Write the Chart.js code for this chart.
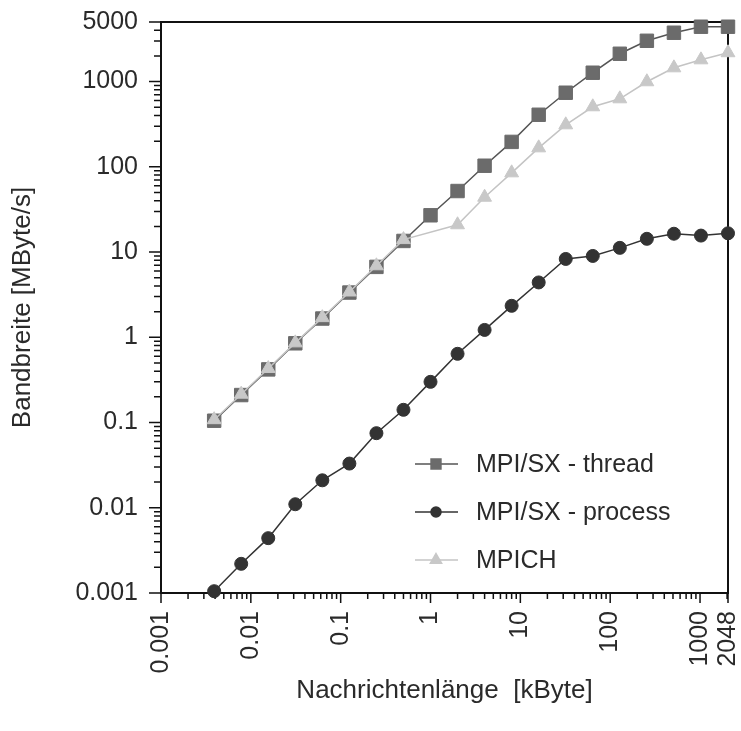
<!DOCTYPE html>
<html>
<head>
<meta charset="utf-8">
<title>Bandbreite MPI/SX</title>
<script src="https://cdn.jsdelivr.net/npm/chart.js@4.4.1/dist/chart.umd.min.js"></script>
<style>
  html, body { margin: 0; padding: 0; background: #ffffff; }
  #wrap { width: 741px; height: 731px; }
</style>
</head>
<body>
<div id="wrap"><canvas id="bwChart" width="741" height="731"></canvas></div>
<script>
// Message sizes in kByte (4 Byte ... 2 MByte)
const msgSizes = [0.00390625, 0.0078125, 0.015625, 0.03125, 0.0625, 0.125, 0.25, 0.5,
                  1, 2, 4, 8, 16, 32, 64, 128, 256, 512, 1024, 2048];

// Bandwidth in MByte/s
const threadBW  = [0.105, 0.21, 0.42, 0.85, 1.66, 3.35, 6.7, 13.5,
                   27, 52, 103, 196, 408, 740, 1270, 2120, 3010, 3740, 4400, 4400];
const processBW = [0.00105, 0.0022, 0.0044, 0.011, 0.021, 0.033, 0.075, 0.141,
                   0.30, 0.64, 1.22, 2.34, 4.4, 8.3, 9.0, 11.2, 14.3, 16.4, 15.6, 16.6];
const mpichBW   = [0.108, 0.215, 0.43, 0.86, 1.7, 3.4, 6.9, 14,
                   null, 20.9, 44, 85, 167, 311, 506, 628, 995, 1450, 1800, 2180];

const seriesNames = ['MPI/SX - thread', 'MPI/SX - process', 'MPICH'];

// Axis tick labels
const xTickValues = [0.001, 0.01, 0.1, 1, 10, 100, 1000, 2048];
const xTickLabels = ['0.001', '0.01', '0.1', '1', '10', '100', '1000', '2048'];
const yTickValues = [0.001, 0.01, 0.1, 1, 10, 100, 1000, 5000];
const yTickLabels = ['0.001', '0.01', '0.1', '1', '10', '100', '1000', '5000'];

const FONT = '"Liberation Sans", Arial, sans-serif';
const TEXT = '#2a2a2a';

function toPoints(values) {
    return msgSizes.map((x, i) => ({ x: x, y: values[i] }));
}

// keep the plot box fixed: no extra room for overhanging labels
function noLabelPadding(scale) {
    scale.paddingLeft = 0;
    scale.paddingRight = 0;
    scale.paddingTop = 0;
    scale.paddingBottom = 0;
}

// Frame around the plot plus major/minor log tick marks
const axisDecor = {
    id: 'axisDecor',
    beforeDatasetsDraw(chart) {
        const { ctx, chartArea: a } = chart;
        const xs = chart.scales.x;
        const ys = chart.scales.y;
        ctx.save();
        ctx.strokeStyle = '#111111';
        ctx.lineWidth = 2;
        ctx.strokeRect(a.left, a.top, a.right - a.left, a.bottom - a.top);

        ctx.lineWidth = 1.5;
        function logMarks(scale, labelled, draw) {
            for (let d = -3; d <= 3; d++) {
                for (let m = 1; m <= 9; m++) {
                    const v = m * Math.pow(10, d);
                    if (v < scale.min * 0.999 || v > scale.max * 1.001) continue;
                    draw(scale.getPixelForValue(v), m === 1);
                }
            }
            labelled.forEach(v => draw(scale.getPixelForValue(v), true));
        }
        ctx.beginPath();
        logMarks(ys, yTickValues, (py, major) => {
            ctx.moveTo(a.left - (major ? 12 : 7), py);
            ctx.lineTo(a.left, py);
        });
        logMarks(xs, xTickValues, (px, major) => {
            ctx.moveTo(px, a.bottom);
            ctx.lineTo(px, a.bottom + (major ? 10 : 6));
        });
        ctx.stroke();
        ctx.restore();
    }
};

// Legend drawn inside the plot, lower right
const insideLegend = {
    id: 'insideLegend',
    afterDraw(chart) {
        const ctx = chart.ctx;
        const legendMarks = [
            { style: 'rect', radius: 7 },
            { style: 'circle', radius: 5 },
            { style: 'triangle', radius: 6.5 }
        ];
        ctx.save();
        chart.data.datasets.forEach((ds, i) => {
            const y = 464 + i * 48;
            ctx.strokeStyle = ds.borderColor;
            ctx.lineWidth = 1.5;
            ctx.beginPath();
            ctx.moveTo(415, y);
            ctx.lineTo(458, y);
            ctx.stroke();
            ctx.fillStyle = ds.pointBackgroundColor;
            ctx.strokeStyle = ds.pointBorderColor;
            Chart.helpers.drawPoint(ctx, {
                pointStyle: legendMarks[i].style,
                radius: legendMarks[i].radius,
                rotation: 0,
                borderWidth: 1
            }, 436, y);
            ctx.fillStyle = TEXT;
            ctx.font = '25px ' + FONT;
            ctx.textAlign = 'left';
            ctx.textBaseline = 'middle';
            ctx.fillText(ds.label, 476, y + 1);
        });
        ctx.restore();
    }
};

const ctx = document.getElementById('bwChart').getContext('2d');
const bwChart = new Chart(ctx, {
    type: 'line',
    data: {
        datasets: [
            {
                label: seriesNames[0],
                data: toPoints(threadBW),
                borderColor: '#555555',
                borderWidth: 1.5,
                pointStyle: 'rect',
                pointRadius: 9.5,
                pointBackgroundColor: '#6b6b6b',
                pointBorderColor: '#6b6b6b',
                pointBorderWidth: 1,
                order: 2
            },
            {
                label: seriesNames[1],
                data: toPoints(processBW),
                borderColor: '#333333',
                borderWidth: 1.5,
                pointStyle: 'circle',
                pointRadius: 6.5,
                pointBackgroundColor: '#333333',
                pointBorderColor: '#333333',
                pointBorderWidth: 1,
                order: 3
            },
            {
                label: seriesNames[2],
                data: toPoints(mpichBW),
                borderColor: '#c4c4c4',
                borderWidth: 1.5,
                pointStyle: 'triangle',
                pointRadius: 8,
                pointBackgroundColor: '#c8c8c8',
                pointBorderColor: '#c8c8c8',
                pointBorderWidth: 1,
                spanGaps: true,
                order: 1
            }
        ]
    },
    options: {
        responsive: false,
        animation: false,
        clip: false,
        layout: { padding: { top: 22, right: 13, left: 0, bottom: 0 } },
        elements: { line: { tension: 0 } },
        scales: {
            x: {
                type: 'logarithmic',
                min: 0.001,
                max: 2048,
                grid: { display: false, drawTicks: false },
                border: { display: false },
                afterBuildTicks: scale => {
                    scale.ticks = xTickValues.map(v => ({ value: v }));
                },
                afterFit: scale => {
                    scale.height = 138;
                    noLabelPadding(scale);
                },
                ticks: {
                    autoSkip: false,
                    minRotation: 90,
                    maxRotation: 90,
                    padding: 18,
                    color: TEXT,
                    font: { family: FONT, size: 25 },
                    callback: value => {
                        const i = xTickValues.indexOf(value);
                        return i >= 0 ? xTickLabels[i] : '';
                    }
                },
                title: {
                    display: true,
                    text: 'Nachrichtenlänge  [kByte]',
                    color: TEXT,
                    font: { family: FONT, size: 26 },
                    padding: { top: 0, bottom: 25 }
                }
            },
            y: {
                type: 'logarithmic',
                min: 0.001,
                max: 5000,
                grid: { display: false, drawTicks: false },
                border: { display: false },
                afterBuildTicks: scale => {
                    scale.ticks = yTickValues.map(v => ({ value: v }));
                },
                afterFit: scale => {
                    scale.width = 161;
                    noLabelPadding(scale);
                },
                ticks: {
                    autoSkip: false,
                    padding: 23,
                    color: TEXT,
                    font: { family: FONT, size: 25 },
                    callback: value => {
                        const i = yTickValues.indexOf(value);
                        return i >= 0 ? yTickLabels[i] : '';
                    }
                },
                title: {
                    display: true,
                    text: 'Bandbreite [MByte/s]',
                    color: TEXT,
                    font: { family: FONT, size: 26 },
                    padding: { top: 7, bottom: 0 }
                }
            }
        },
        plugins: {
            legend: { display: false },
            tooltip: { enabled: false }
        }
    },
    plugins: [axisDecor, insideLegend]
});
</script>
</body>
</html>
